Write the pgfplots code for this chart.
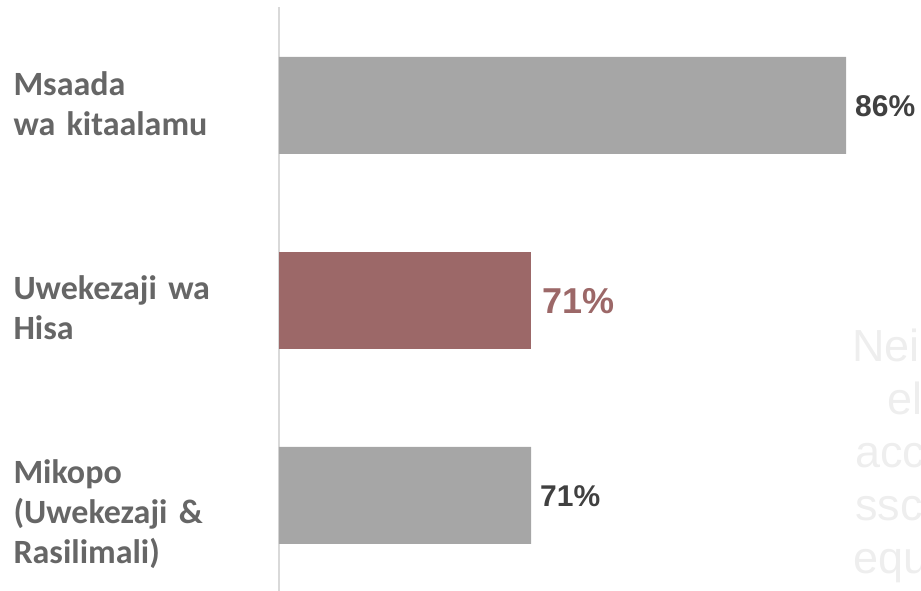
\documentclass[border=0pt]{standalone}
\usepackage{pgfplots}
\pgfplotsset{compat=1.18}
\usepackage{fontspec}
\setmainfont{Liberation Sans}
\newfontfamily\calfont{Carlito}
\definecolor{bargray}{HTML}{A6A6A6}
\definecolor{barred}{HTML}{9C6868}
\definecolor{labgray}{HTML}{666666}
\definecolor{valgray}{HTML}{404040}
\definecolor{axgray}{HTML}{D9D9D9}
\definecolor{ghost}{HTML}{EEEEEE}
\begin{document}
\begin{tikzpicture}
\useasboundingbox (-279pt,0pt) rectangle (642pt,591pt);
\begin{axis}[
    at={(0pt,0pt)}, anchor=south west,
    scale only axis, width=642pt, height=584pt,
    xmin=59, xmax=89.57, ymin=-0.49, ymax=2.505,
    xbar, bar width=97pt, bar shift=0pt,
    axis x line=none, axis y line*=left,
    axis line style={draw=axgray, line width=1.5pt},
    % labels sit a little below their bars in the original
    ytick={-0.097,0.964,2.008},
    yticklabels={{Mikopo\\(Uwekezaji \&\\Rasilimali)},{Uwekezaji wa\\Hisa},{Msaada\\wa kitaalamu}},
    ytick style={draw=none},
    yticklabel style={anchor=east, align=left, text width=261pt, inner sep=0pt,
        font=\calfont\bfseries\fontsize{34}{40}\selectfont, text=labgray},
    /pgf/number format/assume math mode=true,
    nodes near coords={\pgfmathprintnumber{\pgfplotspointmeta}\%},
]
\addplot[draw=none, fill=bargray,
    every node near coord/.style={anchor=base west, inner sep=0pt, xshift=9pt, yshift=-10.7pt,
        font=\bfseries\fontsize{30}{36}\selectfont, text=valgray}]
    coordinates {(71,0) (86,2)};
\addplot[draw=none, fill=barred,
    every node near coord/.style={anchor=base west, inner sep=0pt, xshift=11pt, yshift=-12.9pt,
        font=\bfseries\fontsize{36}{42}\selectfont, text=barred}]
    coordinates {(71,1)};
\end{axis}
\begin{scope}[every node/.style={anchor=base west, inner sep=0pt, text=ghost,
        font=\fontsize{45}{50}\selectfont}]
\node at (573pt,229pt) {Nei};
\node at (608pt,176pt) {el};
\node at (576pt,123pt) {acc};
\node at (576pt,70pt) {ssc};
\node at (574pt,17pt) {equ};
\end{scope}
\end{tikzpicture}
\end{document}
